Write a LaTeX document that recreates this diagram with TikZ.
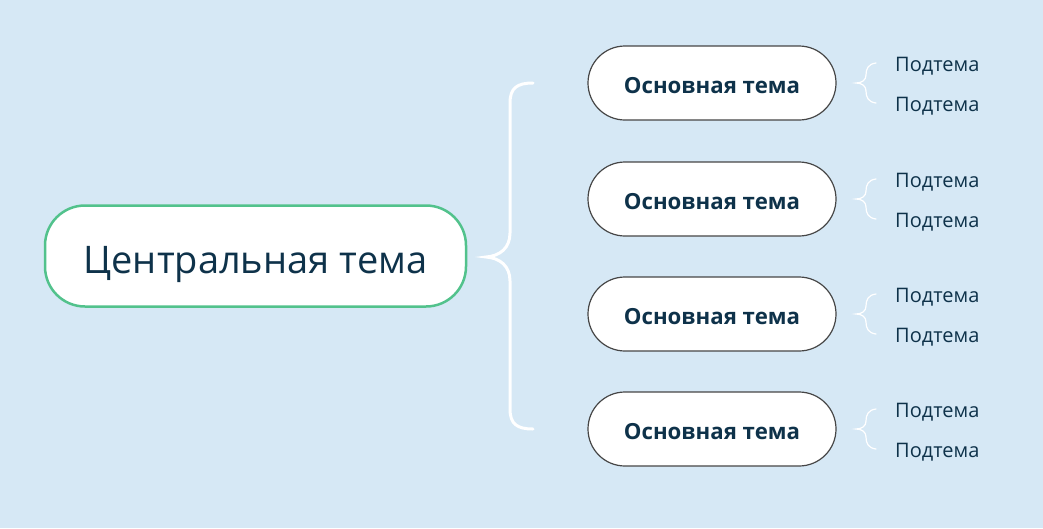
\documentclass[tikz,border=0pt]{standalone}
\usepackage{fontspec}
\setmainfont{Open Sans}
\definecolor{bg}{RGB}{214,232,245}
\definecolor{ink}{RGB}{14,50,74}
\definecolor{grn}{RGB}{82,194,140}
\definecolor{edge}{RGB}{70,70,70}
\tikzset{
  central/.style={draw=grn, line width=2.5pt, fill=white, rounded corners=40pt,
    minimum width=421pt, minimum height=101pt, inner sep=0pt, text=ink,
    text height=34pt, text depth=0pt,
    font=\fontsize{38}{40}\selectfont},
  maintopic/.style={draw=edge, line width=1.2pt, fill=white, rounded corners=37pt,
    minimum width=248pt, minimum height=74pt, inner sep=0pt, text=ink,
    text height=20pt, text depth=0pt,
    font=\bfseries\fontsize{22.2}{24}\selectfont},
  subtopic/.style={anchor=west, inner sep=0pt, text=ink,
    font=\fontsize{20}{22}\selectfont},
  bigbrace/.style={draw=white, line width=3pt, line cap=round},
  smallbrace/.style={draw=white, line width=1.2pt, line cap=round}
}
\begin{document}
\begin{tikzpicture}[x=1pt,y=-1pt]
\fill[bg] (0,0) rectangle (1043,528);
\useasboundingbox (0,0) rectangle (1043,528);

\node[central] (c) at (255.5,256) {Центральная тема};

\foreach \i/\y in {1/83,2/199,3/314,4/429}{
  \node[maintopic] (m\i) at (712,\y) {Основная тема};
  \node[subtopic] (s\i a) at (895,\y-17) {Подтема};
  \node[subtopic] (s\i b) at (895,\y+23) {Подтема};
  \coordinate (t\i) at (856,\y);
  \coordinate (u\i) at (876,\y-20);
  \coordinate (v\i) at (876,\y+20);
  \draw[smallbrace] (u\i) .. controls (868,\y-19) and (866,\y-14) .. (866,\y-8)
     .. controls (866,\y-3) and (862,\y) .. (t\i)
     .. controls (862,\y) and (866,\y+3) .. (866,\y+8)
     .. controls (866,\y+14) and (868,\y+19) .. (v\i);
}

\coordinate (tip) at (486,257);
\coordinate (top) at (533,83);
\coordinate (bot) at (533,429);
\draw[bigbrace] (top) .. controls (517,83) and (510,88) .. (510,103)
   -- (510,233)
   .. controls (510,248) and (500,256) .. (tip)
   .. controls (500,258) and (510,266) .. (510,281)
   -- (510,409)
   .. controls (510,424) and (517,429) .. (bot);
\end{tikzpicture}
\end{document}
